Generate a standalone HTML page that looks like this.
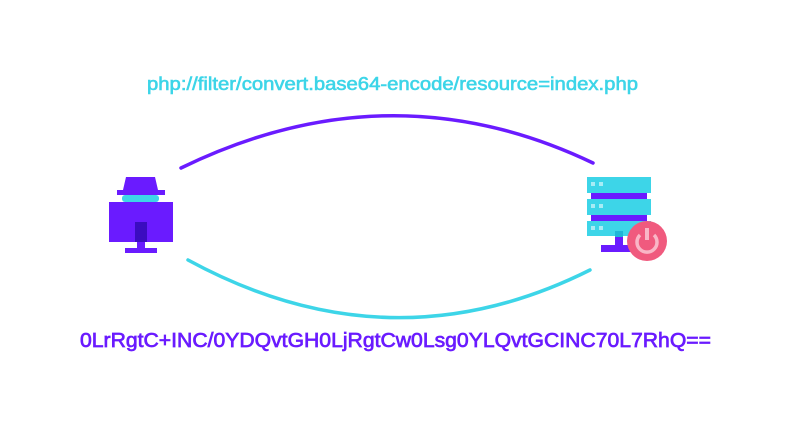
<!DOCTYPE html>
<html><head><style>html,body{margin:0;padding:0;background:#fff;}svg{display:block}</style></head>
<body>
<svg width="802" height="437" viewBox="0 0 802 437" xmlns="http://www.w3.org/2000/svg">
<rect width="802" height="437" fill="#fff"/>
<text x="147" y="90" textLength="491" lengthAdjust="spacingAndGlyphs" font-family="Liberation Sans, sans-serif" font-size="18" stroke="#3dd5e8" stroke-width="0.6" fill="#3dd5e8">php://filter/convert.base64-encode/resource=index.php</text>
<text x="80" y="347" textLength="631" lengthAdjust="spacingAndGlyphs" font-family="Liberation Sans, sans-serif" font-size="20" stroke="#6a1bff" stroke-width="0.7" fill="#6a1bff">0LrRgtC+INC/0YDQvtGH0LjRgtCw0Lsg0YLQvtGCINC70L7RhQ==</text>
<path d="M181 168 Q390 66 593 163" fill="none" stroke="#6a1bff" stroke-width="3.5" stroke-linecap="round"/>
<path d="M188 260 Q390 370 590 270" fill="none" stroke="#3dd5e8" stroke-width="3.5" stroke-linecap="round"/>
<!-- hacker -->
<polygon points="126,177 155,177 158,190 123,190" fill="#6a1bff"/>
<rect x="117" y="190" width="48" height="5" fill="#6a1bff"/>
<rect x="122" y="195" width="37" height="7" rx="3" fill="#3dd5e8"/>
<rect x="109" y="202" width="64" height="40" fill="#6a1bff"/>
<rect x="135" y="222" width="12" height="20" fill="#3b0cc0"/>
<rect x="137" y="242" width="8" height="6" fill="#6a1bff"/>
<rect x="125" y="248" width="32" height="5" fill="#6a1bff"/>
<!-- server -->
<rect x="587" y="177" width="64" height="16" fill="#3dd5e8"/>
<rect x="591" y="193" width="56" height="6" fill="#6a1bff"/>
<rect x="587" y="199" width="64" height="16" fill="#3dd5e8"/>
<rect x="591" y="215" width="56" height="6" fill="#6a1bff"/>
<rect x="587" y="221" width="64" height="15" fill="#3dd5e8"/>
<rect x="591" y="182" width="4" height="4" fill="#a8ecf5"/><rect x="599" y="182" width="4" height="4" fill="#a8ecf5"/>
<rect x="591" y="204" width="4" height="4" fill="#a8ecf5"/><rect x="599" y="204" width="4" height="4" fill="#a8ecf5"/>
<rect x="591" y="226" width="4" height="4" fill="#a8ecf5"/><rect x="599" y="226" width="4" height="4" fill="#a8ecf5"/>
<rect x="615" y="231" width="8" height="6" fill="#1fb5d8"/>
<rect x="615" y="237" width="8" height="10" fill="#6a1bff"/>
<rect x="601" y="245" width="30" height="7" fill="#6a1bff"/>
<circle cx="647" cy="241" r="20" fill="#f05a7e"/>
<path d="M640 235 A10 10 0 1 0 654 235" fill="none" stroke="#f9b6c6" stroke-width="3.5"/>
<rect x="645" y="228" width="4" height="12" fill="#f9b6c6"/>
</svg>
</body></html>
